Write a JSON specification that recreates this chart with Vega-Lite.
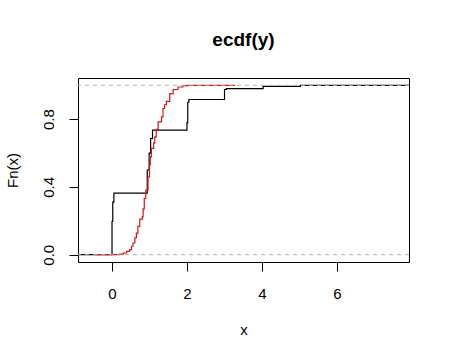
{
  "$schema": "https://vega.github.io/schema/vega-lite/v6.json",
  "width": 331,
  "height": 184,
  "autosize": {"type": "none"},
  "padding": {"left": 78, "top": 78, "right": 41, "bottom": 98},
  "background": "white",
  "config": {
    "view": {"stroke": "black", "strokeWidth": 1},
    "font": "Liberation Sans",
    "axis": {
      "domain": false,
      "grid": false,
      "tickColor": "black",
      "tickSize": 9,
      "labelFont": "Liberation Sans",
      "labelFontSize": 15,
      "labelColor": "black",
      "titleFont": "Liberation Sans",
      "titleFontSize": 15,
      "titleFontWeight": "normal",
      "titleColor": "black"
    },
    "title": {"font": "Liberation Sans", "fontSize": 19, "fontWeight": "bold", "color": "black", "anchor": "middle", "offset": 28}
  },
  "title": "ecdf(y)",
  "datasets": {
    "black": [
      {"x": -1.0, "F": 0.0},
      {"x": 0.0, "F": 0.196},
      {"x": 0.02, "F": 0.31},
      {"x": 0.05, "F": 0.363},
      {"x": 0.94, "F": 0.5},
      {"x": 0.99, "F": 0.6},
      {"x": 1.03, "F": 0.686},
      {"x": 1.08, "F": 0.735},
      {"x": 2.0, "F": 0.78},
      {"x": 2.02, "F": 0.9},
      {"x": 2.05, "F": 0.916},
      {"x": 3.0, "F": 0.975},
      {"x": 3.05, "F": 0.98},
      {"x": 4.03, "F": 0.994},
      {"x": 5.02, "F": 1.0},
      {"x": 8.0, "F": 1.0}
    ],
    "red": [
      {"x": -0.46, "F": 0.0},
      {"x": 0.2, "F": 0.004},
      {"x": 0.3, "F": 0.01},
      {"x": 0.39, "F": 0.02},
      {"x": 0.47, "F": 0.03},
      {"x": 0.52, "F": 0.05},
      {"x": 0.56, "F": 0.069},
      {"x": 0.61, "F": 0.1},
      {"x": 0.65, "F": 0.127},
      {"x": 0.69, "F": 0.167},
      {"x": 0.74, "F": 0.21},
      {"x": 0.81, "F": 0.225},
      {"x": 0.83, "F": 0.27},
      {"x": 0.86, "F": 0.333},
      {"x": 0.9, "F": 0.382},
      {"x": 0.96, "F": 0.46},
      {"x": 1.0, "F": 0.53},
      {"x": 1.02, "F": 0.578},
      {"x": 1.05, "F": 0.628},
      {"x": 1.11, "F": 0.66},
      {"x": 1.14, "F": 0.696},
      {"x": 1.18, "F": 0.74},
      {"x": 1.23, "F": 0.784},
      {"x": 1.32, "F": 0.814},
      {"x": 1.36, "F": 0.863},
      {"x": 1.4, "F": 0.885},
      {"x": 1.45, "F": 0.905},
      {"x": 1.54, "F": 0.951},
      {"x": 1.63, "F": 0.975},
      {"x": 1.76, "F": 0.99},
      {"x": 1.89, "F": 0.998},
      {"x": 2.03, "F": 1.0},
      {"x": 3.28, "F": 1.0}
    ],
    "ref": [{"F": 0}, {"F": 1}]
  },
  "layer": [
    {
      "data": {"name": "black"},
      "mark": {"type": "line", "interpolate": "step-after", "color": "black", "strokeWidth": 1.2, "clip": true},
      "encoding": {
        "x": {"field": "x", "type": "quantitative", "title": "x",
              "scale": {"domain": [-0.907, 7.92], "nice": false, "zero": false},
              "axis": {"values": [0, 2, 4, 6], "labelPadding": 15, "titlePadding": 21}},
        "y": {"field": "F", "type": "quantitative", "title": "Fn(x)",
              "scale": {"domain": [-0.043, 1.043], "nice": false, "zero": false},
              "axis": {"values": [0, 0.2, 0.4, 0.6, 0.8, 1.0], "labelAngle": -90, "labelAlign": "center", "labelBaseline": "bottom", "labelPadding": 13, "titlePadding": 21,
                       "labelExpr": "(abs(datum.value) < 0.001 || abs(datum.value - 0.4) < 0.001 || abs(datum.value - 0.8) < 0.001) ? format(datum.value, '.1f') : ''"}}
      }
    },
    {
      "data": {"name": "red"},
      "mark": {"type": "line", "interpolate": "step-after", "color": "#d01818", "strokeWidth": 1.2, "clip": true},
      "encoding": {
        "x": {"field": "x", "type": "quantitative"},
        "y": {"field": "F", "type": "quantitative"}
      }
    },
    {
      "data": {"name": "ref"},
      "mark": {"type": "rule", "color": "#b3b3b3", "strokeDash": [4, 4], "strokeWidth": 1},
      "encoding": {
        "y": {"field": "F", "type": "quantitative"}
      }
    }
  ]
}
